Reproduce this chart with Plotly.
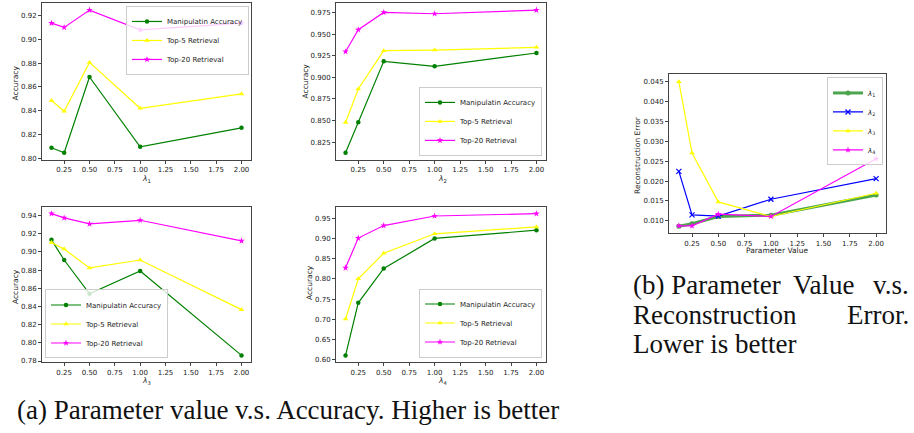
import plotly.graph_objects as go

# ---------------- data ----------------
param_values = [0.125, 0.25, 0.5, 1.0, 2.0]

manip_l1 = [0.8087, 0.8045, 0.8684, 0.8095, 0.8255]
top5_l1 = [0.8485, 0.8395, 0.8807, 0.8420, 0.8541]
top20_l1 = [0.9138, 0.9102, 0.9248, 0.9082, 0.9138]

manip_l2 = [0.8127, 0.8481, 0.9185, 0.9127, 0.9281]
top5_l2 = [0.8477, 0.8865, 0.9308, 0.9315, 0.9346]
top20_l2 = [0.9296, 0.9550, 0.9750, 0.9735, 0.9777]

manip_l3 = [0.9133, 0.8911, 0.8540, 0.8790, 0.7862]
top5_l3 = [0.9104, 0.9031, 0.8824, 0.8911, 0.8365]
top20_l3 = [0.9421, 0.9374, 0.9308, 0.9348, 0.9122]

manip_l4 = [0.6106, 0.7407, 0.8257, 0.9001, 0.9206]
top5_l4 = [0.7006, 0.8004, 0.8633, 0.9116, 0.9287]
top20_l4 = [0.8273, 0.9010, 0.9320, 0.9557, 0.9615]

recon_l1 = [0.00866, 0.00925, 0.01109, 0.01142, 0.01652]
recon_l2 = [0.02245, 0.01150, 0.01117, 0.01543, 0.02061]
recon_l3 = [0.04500, 0.02704, 0.01476, 0.01109, 0.01693]
recon_l4 = [0.00875, 0.00875, 0.01167, 0.01109, 0.02562]

series_names = ["Manipulatin Accuracy", "Top-5 Retrieval", "Top-20 Retrieval"]
lambda_names = ["<i>λ</i><sub>1</sub>", "<i>λ</i><sub>2</sub>", "<i>λ</i><sub>3</sub>", "<i>λ</i><sub>4</sub>"]

x_ticks = [0.25, 0.5, 0.75, 1.0, 1.25, 1.5, 1.75, 2.0]
y_ticks_1 = [0.80, 0.82, 0.84, 0.86, 0.88, 0.90, 0.92]
y_ticks_2 = [0.825, 0.850, 0.875, 0.900, 0.925, 0.950, 0.975]
y_ticks_3 = [0.78, 0.80, 0.82, 0.84, 0.86, 0.88, 0.90, 0.92, 0.94]
y_ticks_4 = [0.60, 0.65, 0.70, 0.75, 0.80, 0.85, 0.90, 0.95]
y_ticks_r = [0.010, 0.015, 0.020, 0.025, 0.030, 0.035, 0.040, 0.045]

# ---------------- styling ----------------
W, H = 914, 433
GREEN, YELLOW, MAGENTA, BLUE = "#008000", "#ffff00", "#ff00ff", "#0000ff"
TICK_FONT = dict(family="DejaVu Sans", size=7, color="#222")
LABEL_FONT = dict(family="DejaVu Sans", size=7.5, color="#222")
CAP_FONT = dict(family="Liberation Serif", size=27, color="#111")


def dx(a, b):
    return [a / W, b / W]


def dy(top, bottom):
    return [1 - bottom / H, 1 - top / H]


def mm_range(vals):
    lo, hi = min(vals), max(vals)
    m = (hi - lo) * 0.05
    return [lo - m, hi + m]


fig = go.Figure()

acc_sets = [
    (manip_l1, top5_l1, top20_l1),
    (manip_l2, top5_l2, top20_l2),
    (manip_l3, top5_l3, top20_l3),
    (manip_l4, top5_l4, top20_l4),
]
styles = [
    (GREEN, "circle", 4.5),
    (YELLOW, "triangle-up", 5),
    (MAGENTA, "star", 5),
]

for i, sets in enumerate(acc_sets):
    k = i + 1
    xa = "x" if k == 1 else f"x{k}"
    ya = "y" if k == 1 else f"y{k}"
    lg = "legend" if k == 1 else f"legend{k}"
    for name, vals, (col, sym, sz) in zip(series_names, sets, styles):
        fig.add_trace(go.Scatter(
            x=param_values, y=vals, name=name, mode="lines+markers",
            line=dict(color=col, width=1.2),
            marker=dict(color=col, symbol=sym, size=sz, line=dict(width=0)),
            xaxis=xa, yaxis=ya, legend=lg,
        ))

recon_sets = [recon_l1, recon_l2, recon_l3, recon_l4]
recon_styles = [
    (GREEN, "circle", 5, 3, 0.7),
    (BLUE, "x-thin", 5, 1.2, 1.0),
    (YELLOW, "triangle-up", 5, 1.2, 1.0),
    (MAGENTA, "star", 5, 1.2, 1.0),
]
for name, vals, (col, sym, sz, lw, op) in zip(lambda_names, recon_sets, recon_styles):
    fig.add_trace(go.Scatter(
        x=param_values, y=vals, name=name, mode="lines+markers",
        line=dict(color=col, width=lw), opacity=op,
        marker=dict(color=col, symbol=sym, size=sz,
                    line=dict(width=1.2 if sym == "x-thin" else 0, color=col)),
        xaxis="x5", yaxis="y5", legend="legend5",
    ))

axis_common = dict(
    showline=True, mirror=True, linecolor="#444", linewidth=1,
    ticks="outside", ticklen=3, tickwidth=1, tickcolor="#444",
    showgrid=False, zeroline=False, tickfont=TICK_FONT,
)
x_range = mm_range(param_values)

boxes = [
    (dx(42, 251), dy(3, 161), y_ticks_1, ".2f", mm_range(manip_l1 + top5_l1 + top20_l1)),
    (dx(336, 546), dy(3, 161), y_ticks_2, ".3f", mm_range(manip_l2 + top5_l2 + top20_l2)),
    (dx(42, 251), dy(208, 365), y_ticks_3, ".2f", mm_range(manip_l3 + top5_l3 + top20_l3)),
    (dx(336, 546), dy(208, 365), y_ticks_4, ".2f", mm_range(manip_l4 + top5_l4 + top20_l4)),
    (dx(669, 886), dy(75, 235), y_ticks_r, ".3f", mm_range(recon_l1 + recon_l2 + recon_l3 + recon_l4)),
]
layout_axes = {}
for i, (xd, yd, yt, fmt, yr) in enumerate(boxes):
    k = i + 1
    xn = "xaxis" if k == 1 else f"xaxis{k}"
    yn = "yaxis" if k == 1 else f"yaxis{k}"
    xanchor = "y" if k == 1 else f"y{k}"
    yanchor = "x" if k == 1 else f"x{k}"
    layout_axes[xn] = dict(axis_common, domain=xd, range=x_range, tickvals=x_ticks,
                           tickformat=".2f", anchor=xanchor)
    layout_axes[yn] = dict(axis_common, domain=yd, range=yr, tickvals=yt,
                           tickformat=fmt, anchor=yanchor)

leg_common = dict(
    bgcolor="rgba(255,255,255,0.8)", bordercolor="#cccccc", borderwidth=1,
    font=dict(family="DejaVu Sans", size=7, color="#222"),
    itemwidth=30, tracegroupgap=0,
)
legends = dict(
    legend=dict(leg_common, x=249 / W, y=1 - 6 / H, xanchor="right", yanchor="top"),
    legend2=dict(leg_common, x=542 / W, y=1 - 157 / H, xanchor="right", yanchor="bottom"),
    legend3=dict(leg_common, x=45 / W, y=1 - 361 / H, xanchor="left", yanchor="bottom"),
    legend4=dict(leg_common, x=542 / W, y=1 - 360 / H, xanchor="right", yanchor="bottom"),
    legend5=dict(leg_common, x=883 / W, y=1 - 78 / H, xanchor="right", yanchor="top"),
)

annotations = []


def ann(text, px, py, font, angle=0, xanchor="center", yanchor="middle"):
    annotations.append(dict(
        text=text, x=px / W, y=1 - py / H, xref="paper", yref="paper",
        showarrow=False, font=font, textangle=angle,
        xanchor=xanchor, yanchor=yanchor,
    ))


# axis titles
ann("Accuracy", 15, 83, LABEL_FONT, angle=-90)
ann("Accuracy", 305, 82, LABEL_FONT, angle=-90)
ann("Accuracy", 15, 288, LABEL_FONT, angle=-90)
ann("Accuracy", 309, 285, LABEL_FONT, angle=-90)
ann("Reconstruction Error", 638, 156, LABEL_FONT, angle=-90)
ann(lambda_names[0], 146, 180, LABEL_FONT)
ann(lambda_names[1], 442, 180, LABEL_FONT)
ann(lambda_names[2], 146, 384, LABEL_FONT)
ann(lambda_names[3], 442, 384, LABEL_FONT)
ann("Parameter Value", 777, 252, LABEL_FONT)

# captions
ann("(a) Parameter value v.s. Accuracy. Higher is better", 15, 413, CAP_FONT, xanchor="left")
ann("(b) Parameter", 631, 287, CAP_FONT, xanchor="left")
ann("Value", 791, 287, CAP_FONT, xanchor="left")
ann("v.s.", 911, 287, CAP_FONT, xanchor="right")
ann("Reconstruction", 631, 317, CAP_FONT, xanchor="left")
ann("Error.", 911, 317, CAP_FONT, xanchor="right")
ann("Lower is better", 631, 346, CAP_FONT, xanchor="left")

fig.update_layout(
    width=W, height=H,
    margin=dict(l=0, r=0, t=0, b=0),
    paper_bgcolor="white", plot_bgcolor="white",
    showlegend=True,
    annotations=annotations,
    **layout_axes, **legends,
)

fig.write_html(
    "out.html",
    config={"displayModeBar": False},
    post_script="document.body.style.margin='0';document.body.style.overflow='hidden';",
)
